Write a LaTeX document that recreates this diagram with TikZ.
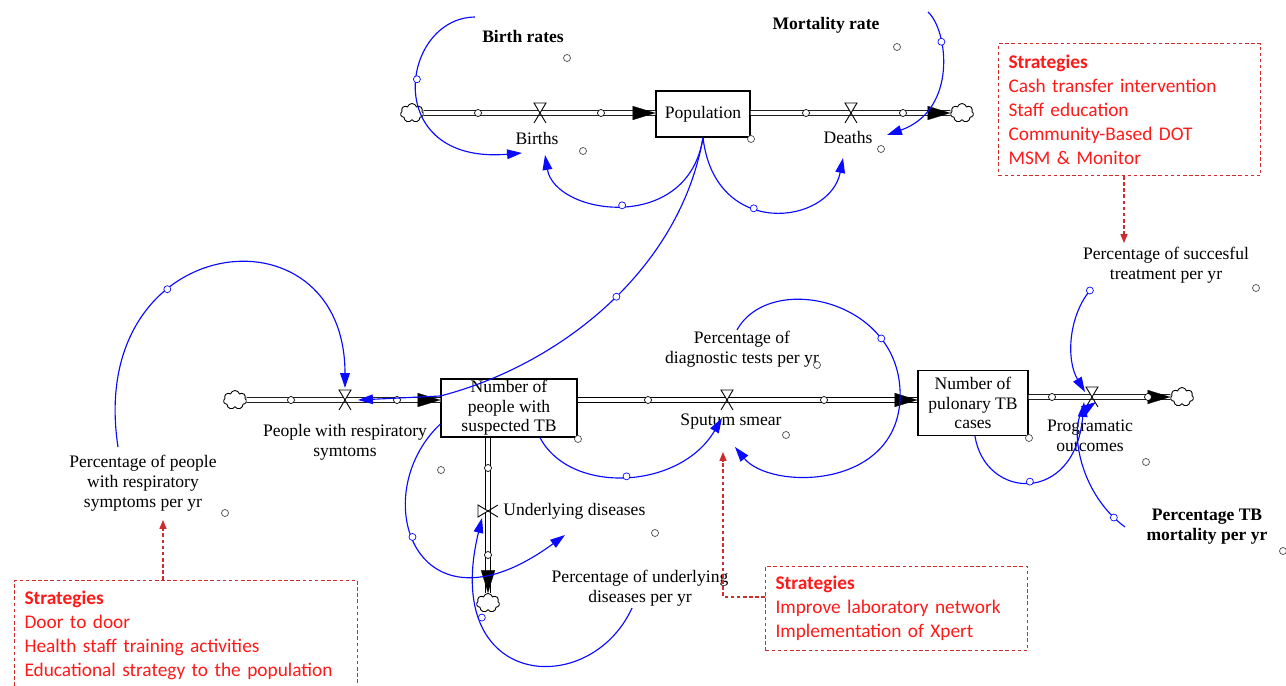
\documentclass[tikz,border=0pt]{standalone}
\usepackage{fontspec}
\setmainfont{Liberation Serif}
\newfontfamily\calibri{Carlito}
\usetikzlibrary{arrows.meta,shapes.symbols}

\definecolor{linkblue}{RGB}{10,10,255}
\definecolor{strred}{RGB}{255,25,25}
\definecolor{boxred}{RGB}{205,45,45}

\tikzset{
  lbl/.style={font=\fontsize{10}{11.5}\selectfont, align=center, inner sep=0pt},
  blbl/.style={lbl, font=\fontsize{10}{11.5}\selectfont\bfseries},
  stock/.style={draw, line width=0.7pt, fill=white, align=center, inner sep=0pt,
    font=\fontsize{10}{11.2}\selectfont},
  pipe/.style={line width=0.5pt, double=white, double distance=2.4pt},
  pipetip/.style={draw=white, line width=0.1pt, -{Triangle[length=13pt,width=8pt,color=black]}},
  link/.style={draw=linkblue, line width=0.65pt, -{Triangle[length=8.5pt,width=5.5pt]}},
  hnd/.style={circle, draw, fill=white, inner sep=0pt, minimum size=0.14cm, line width=0.4pt},
  dhnd/.style={hnd, draw=black!70},
  bhnd/.style={hnd, draw=linkblue},
  cld/.style={cloud, cloud puffs=7, aspect=1.3, draw, fill=white, line width=0.5pt,
    minimum width=0.46cm, minimum height=0.38cm, inner sep=0pt},
  strbox/.style={draw=boxred, dash pattern=on 2pt off 1.5pt, line width=0.6pt, anchor=north west,
    text=strred, font=\calibri\fontsize{11}{13.6}\selectfont, align=left, inner xsep=0.2cm, inner ysep=0pt},
  strarrow/.style={draw=boxred, dash pattern=on 2pt off 1.5pt, line width=0.6pt,
    -{Triangle[length=5pt,width=4pt]}},
  valve/.pic={
    \draw[line width=0.5pt, fill=white] (-6,-10) -- (6,-10) -- (0,0) -- cycle;
    \draw[line width=0.5pt] (0,0) -- (6,10) (0,0) -- (-6,10);
  },
  valveside/.pic={
    \draw[line width=0.5pt, fill=white] (-10,-6) -- (-10,6) -- (0,0) -- cycle;
    \draw[line width=0.5pt] (0,0) -- (10,-6) (0,0) -- (10,6);
  },
}

\begin{document}
\begin{tikzpicture}[x=0.02cm, y=-0.02cm]
        \useasboundingbox (0,0) rectangle (1286,686);

        % Niveles
        \node[stock, minimum width=1.88cm, minimum height=0.92cm] (pop) at (703,114) {Population};
        \node[stock, minimum width=2.72cm, minimum height=1.16cm] (nsus) at (509,408) {Number of\\people with\\suspected TB};
        \node[stock, minimum width=2.2cm, minimum height=1.3cm] (ntb) at (973,403) {Number of\\pulonary TB\\cases};

        % Nubes
        \node[cld] (c1) at (412,113) {};
        \node[cld] (c2) at (962,113) {};
        \node[cld] (c3) at (235,400) {};
        \node[cld] (c4) at (1182,397) {};
        \node[cld] (c5) at (488,603) {};

        % Valvulas
        \coordinate (vb) at (540,113);
        \coordinate (vd) at (851,113);
        \coordinate (vr) at (345,400);
        \coordinate (vs) at (727,400);
        \coordinate (vp) at (1092,397);
        \coordinate (vu) at (488,511);

        % Flujos
        \draw[pipe] (c1) -- (pop.west |- vb);
        \draw[pipetip] (vb) -- (pop.west |- vb);
        \draw[pipe] (pop.east |- vd) -- (c2);
        \draw[pipetip] (vd) -- (c2.west);
        \draw[pipe] (c3) -- (nsus.west |- vr);
        \draw[pipetip] (vr) -- (nsus.west |- vr);
        \draw[pipe] (nsus.east |- vs) -- (ntb.west |- vs);
        \draw[pipetip] (vs) -- (ntb.west |- vs);
        \draw[pipe] (ntb.east |- vp) -- (c4);
        \draw[pipetip] (vp) -- (c4.west);
        \draw[pipe] (nsus.south -| vu) -- (c5);
        \draw[pipetip] (vu) -- (c5.north);

        \pic at (vb) {valve};
        \pic at (vd) {valve};
        \pic at (vr) {valve};
        \pic at (vs) {valve};
        \pic at (vp) {valve};
        \pic at (vu) {valveside};

        \foreach \x/\y [count=\i] in {478/113, 601/113, 806/113, 903/113, 291/400, 397/400,
            648/400, 824/400, 1052/397, 1148/397, 488/468, 488/555}
            \node[hnd] (pc\i) at (\x,\y) {};

        % Etiquetas
        \node[lbl] (births) at (537,138) {Births};
        \node[lbl] (deaths) at (848,137) {Deaths};
        \node[blbl] (brate) at (523,36) {Birth rates};
        \node[blbl] (mrate) at (826,25) {Mortality rate};
        \node[lbl] (resp) at (345,442) {People with respiratory\\symtoms};
        \node[lbl] (sputum) at (731,422) {Sputum smear};
        \node[lbl] (pdt) at (742,349) {Percentage of\\diagnostic tests per yr};
        \node[lbl] (prog) at (1090,436) {Programatic\\outcomes};
        \node[lbl] (psuc) at (1166,265) {Percentage of succesful\\treatment per yr};
        \node[blbl] (ptbm) at (1207,527) {Percentage TB\\mortality per yr};
        \node[lbl, anchor=west] (und) at (503,511) {Underlying diseases};
        \node[lbl] (pud) at (640,588) {Percentage of underlying\\diseases per yr};
        \node[lbl] (ppr) at (143,483) {Percentage of people\\with respiratory\\symptoms per yr};

        \foreach \x/\y [count=\i] in {567/58, 583/151, 897/47, 881/149, 786/435, 817/365,
            1146/462, 1256/288, 1283/551, 655/533, 441/470, 225/513, 751/139, 578/439, 1029/438}
            \node[dhnd] (dm\i) at (\x,\y) {};

        % Puntos de los enlaces
        \coordinate (brateout) at (475,17);
        \coordinate (birthsin1) at (522,153);
        \coordinate (birthsin2) at (545,155);
        \coordinate (mrateout) at (928,12);
        \coordinate (deathsin1) at (843,158);
        \coordinate (deathsin2) at (887,135);
        \coordinate (vrin) at (358,400);
        \coordinate (vrtop) at (345,388);
        \coordinate (pprout) at (118,447);
        \coordinate (vsin1) at (722,418);
        \coordinate (vsin2) at (735,447);
        \coordinate (pdtout) at (737,330);
        \coordinate (vpin1) at (1084,402);
        \coordinate (vpin2) at (1085,392);
        \coordinate (vpin3) at (1096,402);
        \coordinate (psucout) at (1092,288);
        \coordinate (ptbmout) at (1125,527);
        \coordinate (undin1) at (565,535);
        \coordinate (undin2) at (482,518);
        \coordinate (pudout) at (632,608);

        % Enlaces
        \draw[link] (brateout) .. controls (400,18) and (380,165) .. (birthsin1) node[pos=.45, bhnd] (k1) {};
        \draw[link] (pop.south) .. controls (688,235) and (555,215) .. (birthsin2) node[pos=.5, bhnd] (k2) {};
        \draw[link] (pop.south) .. controls (715,240) and (830,225) .. (deathsin1) node[pos=.4, bhnd] (k3) {};
        \draw[link] (mrateout) .. controls (948,30) and (958,110) .. (deathsin2) node[pos=.3, bhnd] (k4) {};
        \draw[link] (pop.south) .. controls (680,270) and (560,365) .. (nsus.west |- 0,396) node[pos=.47, bhnd] (k5) {} -- (vrin);
        \draw[link] (pprout) .. controls (85,230) and (345,200) .. (vrtop) node[pos=.35, bhnd] (k6) {};
        \draw[link] (nsus.south -| 540,0) .. controls (570,495) and (680,490) .. (vsin1) node[pos=.5, bhnd] (k7) {};
        \draw[link] (pdtout) .. controls (770,270) and (905,300) .. (900,400) node[pos=.75, bhnd] (k8) {}
            .. controls (895,490) and (770,490) .. (vsin2);
        \draw[link] (ntb.south -| 975,0) .. controls (985,500) and (1075,505) .. (vpin1) node[pos=.5, bhnd] (k9) {};
        \draw[link] (psucout) .. controls (1068,315) and (1066,360) .. (vpin2) node[pos=.03, bhnd] (k10) {};
        \draw[link] (ptbmout) .. controls (1075,490) and (1070,420) .. (vpin3) node[pos=.08, bhnd] (k11) {};
        \draw[link] (nsus.west |- 0,424) .. controls (365,495) and (415,645) .. (undin1) node[pos=.45, bhnd] (k12) {};
        \draw[link] (pudout) .. controls (590,700) and (440,690) .. (undin2) node[pos=.75, bhnd] (k13) {};

        % Estrategias
        \node[strbox, minimum width=5.24cm, minimum height=2.64cm, text width=4.84cm] (strA) at (998,43)
            {\textbf{Strategies}\\Cash transfer intervention\\Staff education\\Community-Based DOT\\MSM \& Monitor};
        \node[strbox, minimum width=6.86cm, minimum height=2.2cm, text width=6.46cm] (strB) at (14,580)
            {\textbf{Strategies}\\Door to door\\Health staff training activities\\Educational strategy to the population};
        \node[strbox, minimum width=5.24cm, minimum height=1.68cm, text width=4.84cm] (strC) at (765,566)
            {\textbf{Strategies}\\Improve laboratory network\\Implementation of Xpert};

        \coordinate (aA) at (1124,243);
        \coordinate (aB) at (163,520);
        \coordinate (aC) at (723,452);
        \draw[strarrow] (strA.south -| aA) -- (aA);
        \draw[strarrow] (strB.north -| aB) -- (aB);
        \draw[strarrow] (strC.west |- 0,597) -- (aC |- 0,597) -- (aC);
    \end{tikzpicture}
\end{document}
